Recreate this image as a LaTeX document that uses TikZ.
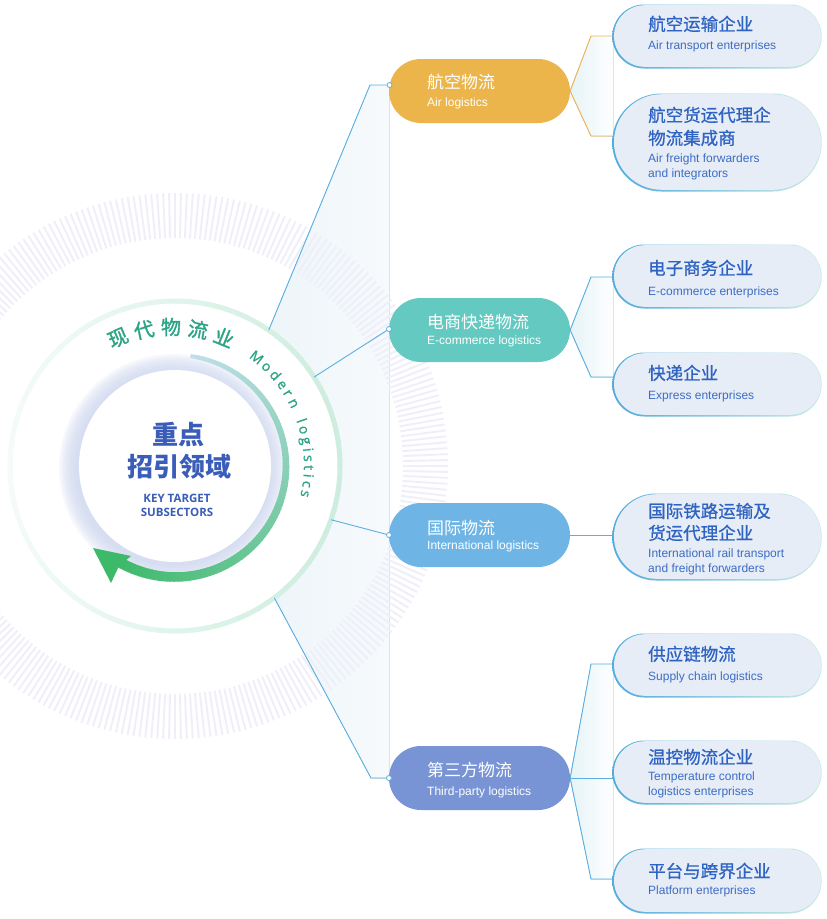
\documentclass[tikz,border=0pt]{standalone}
\usepackage{fontspec}
\setmainfont{Liberation Sans}
\newfontfamily\cjk{Noto Sans CJK SC}
\newfontfamily\cjkm[FakeBold=0.8]{Noto Sans CJK SC}
\newfontfamily\cjkh[FakeBold=1.6]{Noto Sans CJK SC}
\newfontfamily\osans{Open Sans}
\newfontfamily\osansh[FakeBold=1.2]{Open Sans}
\usetikzlibrary{shapes.misc,calc}
\definecolor{airC}{HTML}{EBB54B}
\definecolor{ecoC}{HTML}{63C9C1}
\definecolor{intC}{HTML}{6EB5E6}
\definecolor{thdC}{HTML}{7894D4}
\definecolor{lineB}{HTML}{5AB0E2}
\definecolor{lineO}{HTML}{EDB650}
\definecolor{leafF}{HTML}{E7EDF7}
\definecolor{leafBA}{HTML}{52ACDD}
\definecolor{leafBB}{HTML}{CBEBE5}
\definecolor{leafT}{HTML}{2F63C2}
\definecolor{leafE}{HTML}{3B6CC4}
\definecolor{titleC}{HTML}{3A5DB9}
\definecolor{arcT}{HTML}{2EA487}
\definecolor{tickC}{HTML}{EFEFF9}
\definecolor{ringC}{HTML}{CDEDDE}
\definecolor{wedgeL}{HTML}{EDF5F9}
\definecolor{wedgeR}{HTML}{F7FAFC}
\definecolor{haloC}{HTML}{CFD9F0}
\definecolor{arcA}{HTML}{BFDFEA}
\definecolor{arcB}{HTML}{3DB96A}
\definecolor{elbF}{HTML}{E6F3F7}
\newcommand\leafpill[4]{%
  \node[leafout, minimum height=#4pt] (#1o) at ({#2-0.5},{#3+0.5}) {};
  \node[leafin, minimum height=#4pt-2.4pt] (#1) at (#2,#3) {};
}
\begin{document}
\begin{tikzpicture}[x=1pt,y=-1pt,
  conn/.style={draw=lineB, line width=0.9pt},
  connO/.style={draw=lineO, line width=0.9pt},
  catpill/.style={rounded rectangle, minimum width=181pt, minimum height=64pt, inner sep=0pt},
  leafout/.style={rounded rectangle, inner sep=0pt, left color=leafBA, right color=leafBB, minimum width=209.5pt},
  leafin/.style={rounded rectangle, inner sep=0pt, fill=leafF, minimum width=207pt},
  marker/.style={circle, draw=lineB, fill=white, line width=0.8pt, inner sep=0pt, minimum size=5pt},
  cattxt/.style={anchor=base west, inner sep=0pt, text=white, font=\cjk\fontsize{17}{17}\selectfont, yshift=-6.5pt},
  catsub/.style={anchor=base west, inner sep=0pt, text=white, font=\fontsize{12}{12}\selectfont, yshift=-4.3pt},
  leafcn/.style={anchor=base west, inner sep=0pt, text=leafT, font=\cjkm\fontsize{17.5}{17.5}\selectfont, yshift=-6.6pt},
  leafen/.style={anchor=base west, inner sep=0pt, text=leafE, font=\fontsize{12}{12}\selectfont, yshift=-4.3pt},
  curvcn/.style={inner sep=0pt, text=arcT, font=\cjkh\fontsize{20}{20}\selectfont},
  curven/.style={inner sep=0pt, anchor=base, text=arcT, font=\osansh\fontsize{14}{14}\selectfont},
  elbowfill/.style={left color=elbF, right color=white!96!elbF, draw=none},
]
\useasboundingbox (0,0) rectangle (827,919);
\fill[white] (0,0) rectangle (827,919);

\coordinate (C) at (175,466);
\coordinate (T) at (172,465);
\coordinate (rA) at ($(C)+(55.4:165pt)$);
\coordinate (rE) at ($(C)+(32.6:165pt)$);
\coordinate (rI) at ($(C)+(-19:165pt)$);
\coordinate (rT) at ($(C)+(-53:165pt)$);
\coordinate (kA) at (370,85);
\coordinate (kT) at (371,778);

% pale wedge
\fill[left color=wedgeL, right color=wedgeR] (rA) -- (kA) -- (389,85) -- (389,778) -- (kT) -- (rT)
  arc[start angle=-53, end angle=55.4, radius=165pt] -- cycle;

% tick ring
\begin{scope}[shift={(C)}]
\foreach \a in {0,1.25,...,358.9} \draw[tickC, line width=1.9pt] (\a:228pt) -- (\a:273pt);
\end{scope}

% outer mint ring
\foreach \a in {0,4,...,356} {
  \pgfmathsetmacro\p{22+78*(1+cos(\a+2))/2}
  \draw[line width=5pt, ringC!\p!white] ($(C)+(\a:165pt)$) arc[start angle=\a, end angle=\a+4.6, radius=165pt];
}

% halo
\foreach \r in {114,112,...,97} \fill[haloC, opacity=0.16] ($(C)+(-2,2)$) circle[radius=\r pt];
\node[circle, fill=white, minimum size=192pt, inner sep=0pt] (core) at (C) {};

% green arc
\foreach \a in {82,80,...,-120} {
  \pgfmathsetmacro\t{(82-\a)/202}
  \pgfmathsetmacro\pp{100*\t}
  \pgfmathsetmacro\w{4+6.5*\t}
  \draw[line width=\w pt, arcB!\pp!arcA] ($(C)+(\a:111pt)$) arc[start angle=\a, end angle=\a-2.6, radius=111pt];
}
\fill[arcB] (93,548) -- (131,556) -- (119,566) -- (111,583) -- cycle;

% central text
\node[anchor=base, inner sep=0pt, text=titleC, font=\cjk\bfseries\fontsize{26}{26}\selectfont, yshift=-9.9pt] (t1) at (178,435) {重点};
\node[anchor=base, inner sep=0pt, text=titleC, font=\cjk\bfseries\fontsize{26}{26}\selectfont, yshift=-9.9pt] (t2) at (179,467) {招引领域};
\node[align=center, inner sep=0pt, text=titleC, font=\osans\bfseries\fontsize{11.5}{14}\selectfont] (t3) at (177,505) {KEY TARGET\\SUBSECTORS};

% curved texts
\foreach \ch/\ang [count=\i] in {现/113,代/101.7,物/90.4,流/79.1,业/67.8}
  \node[curvcn, rotate=\ang-90] (cc\i) at ($(T)+(\ang:138pt)$) {\ch};
\foreach \ch/\ang [count=\i] in {M/51.8,o/46.1,d/41.0,e/36.1,r/31.8,n/26.9,l/18.9,o/14.9,g/10.2,i/6.4,s/2.8,t/-1.1,i/-4.5,c/-8.1,s/-12.2}
  \node[curven, rotate=\ang-90] (ce\i) at ($(T)+(\ang:132pt)$) {\ch};

% elbow fills
\fill[elbowfill] (570,91) -- (591,36) -- (613,36) -- (613,136) -- (591,136) -- cycle;
\fill[elbowfill] (570,330) -- (591,277) -- (613,277) -- (613,377) -- (591,377) -- cycle;
\fill[elbowfill] (570,778) -- (591,664) -- (613,664) -- (613,879) -- (591,879) -- cycle;

% category nodes
\node[catpill, fill=airC] (air) at (479.5,91) {};
\node[catpill, fill=ecoC] (eco) at (479.5,330) {};
\node[catpill, fill=intC] (int) at (479.5,535) {};
\node[catpill, fill=thdC] (thd) at (479.5,778) {};

% leaf pills
\leafpill{L1}{717.5}{36}{64}
\leafpill{L2}{717.5}{142}{98}
\leafpill{L3}{717.5}{276}{64}
\leafpill{L4}{717.5}{384}{64}
\leafpill{L5}{717.5}{536.5}{87}
\leafpill{L6}{717.5}{665}{64}
\leafpill{L7}{717.5}{772}{64}
\leafpill{L8}{717.5}{880.5}{65}

% connectors ring -> category
\node[marker] (mA) at (389.5,85) {};
\node[marker] (mE) at (389,329) {};
\node[marker] (mI) at (389,535) {};
\node[marker] (mT) at (389,778) {};
\draw[conn] (rA) -- (kA) -- (mA);
\draw[conn] (rE) -- (mE);
\draw[conn] (rI) -- (mI);
\draw[conn] (rT) -- (kT) -- (mT);

% connectors category -> leaves
\coordinate (eA1) at (591,36);
\coordinate (eA2) at (591,136);
\coordinate (eE1) at (591,277);
\coordinate (eE2) at (591,377);
\coordinate (eT1) at (591,664);
\coordinate (eT3) at (591,879);
\draw[connO] (air.east) -- (eA1) -- (eA1 -| L1.west);
\draw[connO] (air.east) -- (eA2) -- (eA2 -| L2.west);
\draw[conn] (eco.east) -- (eE1) -- (eE1 -| L3.west);
\draw[conn] (eco.east) -- (eE2) -- (eE2 -| L4.west);
\draw[conn] (int.east) -- (int.east -| L5.west);
\draw[conn] (thd.east) -- (eT1) -- (eT1 -| L6.west);
\draw[conn] (thd.east) -- (thd.east -| L7.west);
\draw[conn] (thd.east) -- (eT3) -- (eT3 -| L8.west);

% category texts
\node[cattxt] (airc) at (427,82) {航空物流};
\node[catsub] (aire) at (427,102) {Air logistics};
\node[cattxt] (ecoc) at (427,322) {电商快递物流};
\node[catsub] (ecoe) at (427,340) {E-commerce logistics};
\node[cattxt] (intc) at (427,528) {国际物流};
\node[catsub] (inte) at (427,545) {International logistics};
\node[cattxt] (thdc) at (427,770) {第三方物流};
\node[catsub] (thde) at (427,791) {Third-party logistics};

% leaf texts
\node[leafcn] (l1c) at (648,24) {航空运输企业};
\node[leafen] (l1e) at (648,45) {Air transport enterprises};
\node[leafcn] (l2c) at (648,115) {航空货运代理企};
\node[leafcn] (l2d) at (648,138) {物流集成商};
\node[leafen] (l2e) at (648,158) {Air freight forwarders};
\node[leafen] (l2f) at (648,173) {and integrators};
\node[leafcn] (l3c) at (648,268) {电子商务企业};
\node[leafen] (l3e) at (648,291) {E-commerce enterprises};
\node[leafcn] (l4c) at (648,373) {快递企业};
\node[leafen] (l4e) at (648,395) {Express enterprises};
\node[leafcn] (l5c) at (648,511) {国际铁路运输及};
\node[leafcn] (l5d) at (648,533) {货运代理企业};
\node[leafen] (l5e) at (648,553) {International rail transport};
\node[leafen] (l5f) at (648,568) {and freight forwarders};
\node[leafcn] (l6c) at (648,654) {供应链物流};
\node[leafen] (l6e) at (648,676) {Supply chain logistics};
\node[leafcn] (l7c) at (648,757) {温控物流企业};
\node[leafen] (l7e) at (648,776) {Temperature control};
\node[leafen] (l7f) at (648,791) {logistics enterprises};
\node[leafcn] (l8c) at (648,871) {平台与跨界企业};
\node[leafen] (l8e) at (648,890) {Platform enterprises};
\end{tikzpicture}
\end{document}
